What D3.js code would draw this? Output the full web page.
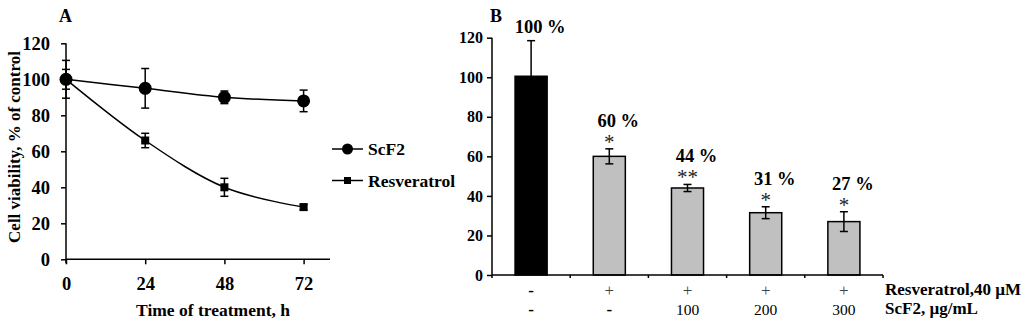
<!DOCTYPE html>
<html><head><meta charset="utf-8">
<script src="https://cdn.jsdelivr.net/npm/d3@7"></script>
<style>
body{margin:0;background:#fff}
svg{display:block;font-family:"Liberation Serif","Times New Roman",serif}
</style></head><body>
<svg width="1024" height="322"></svg>
<script>
// --- Panel A data: viability over time ---
const hours = [0, 24, 48, 72];
const scf2 = [100, 95, 90, 88];
const scf2Err = [10.5, 11, 3.5, 6];
const resv = [100, 66, 40, 29];
const resvErr = [5.5, 4, 5, 1.5];
const yTicksA = [0, 20, 40, 60, 80, 100, 120];

// --- Panel B data: combination treatment ---
const groups = ["ctrl", "r40", "r40s100", "r40s200", "r40s300"];
const viab = [100.5, 60, 44, 31.5, 27];
const viabErr = [18, 3.8, 1.8, 3, 5];
const pctLabels = ["100 %", "60 %", "44 %", "31 %", "27 %"];
const stars = ["", "*", "**", "*", "*"];
const resvRow = ["-", "+", "+", "+", "+"];
const scfRow = ["-", "-", "100", "200", "300"];
const yTicksB = [0, 20, 40, 60, 80, 100, 120];

const svg = d3.select("svg");

function styleAxis(sel, size) {
  sel.selectAll("line").attr("stroke", "#000").attr("stroke-width", 1.5);
  sel.selectAll("path").remove();
  sel.selectAll("text").attr("font-size", size).attr("font-weight", "bold").attr("fill", "#000")
    .attr("font-family", "Liberation Serif");
}

// ================= Panel A =================
const xA = d3.scaleLinear().domain([0, 80]).range([66, 330]);
const yA = d3.scaleLinear().domain([0, 120]).range([259.3, 43.3]);
const gA = svg.append("g");

gA.append("g").attr("transform", "translate(66,0)")
  .call(d3.axisLeft(yA).tickValues(yTicksA).tickSize(5).tickPadding(11))
  .call(s => styleAxis(s, 18.5));
gA.append("g").attr("transform", "translate(0," + yA(0) + ")")
  .call(d3.axisBottom(xA).tickValues(hours).tickSize(5).tickPadding(13))
  .call(s => styleAxis(s, 18.5));
gA.append("line").attr("x1", xA(0)).attr("x2", xA(0)).attr("y1", yA(120)).attr("y2", yA(0) + 4)
  .attr("stroke", "#000").attr("stroke-width", 1.5);
gA.append("line").attr("x1", xA(0)).attr("x2", xA(80)).attr("y1", yA(0)).attr("y2", yA(0))
  .attr("stroke", "#000").attr("stroke-width", 1.5);

const seriesA = [
  {name: "ScF2", vals: scf2, errs: scf2Err, shape: "circle"},
  {name: "Resveratrol", vals: resv, errs: resvErr, shape: "square"}
];
const lineA = d3.line().curve(d3.curveCardinal.tension(0)).x((d, i) => xA(hours[i])).y(d => yA(d));

seriesA.forEach(s => {
  const eg = gA.append("g");
  s.vals.forEach((v, i) => {
    const x = xA(hours[i]);
    eg.append("line").attr("x1", x).attr("x2", x).attr("y1", yA(v - s.errs[i])).attr("y2", yA(v + s.errs[i]));
    [v - s.errs[i], v + s.errs[i]].forEach(e =>
      eg.append("line").attr("x1", x - 4).attr("x2", x + 4).attr("y1", yA(e)).attr("y2", yA(e)));
  });
  eg.selectAll("line").attr("stroke", "#000").attr("stroke-width", 1.5);
  gA.append("path").datum(s.vals).attr("d", lineA).attr("fill", "none").attr("stroke", "#000").attr("stroke-width", 1.5);
});
seriesA.forEach(s => {
  s.vals.forEach((v, i) => {
    if (s.shape === "circle") gA.append("circle").attr("cx", xA(hours[i])).attr("cy", yA(v)).attr("r", 6.5);
    else gA.append("rect").attr("x", xA(hours[i]) - 4).attr("y", yA(v) - 4).attr("width", 8).attr("height", 8);
  });
});

// legend
const leg = gA.append("g").attr("transform", "translate(332,149)");
seriesA.forEach((s, i) => {
  const row = leg.append("g").attr("transform", "translate(0," + (i * 31.5) + ")");
  row.append("line").attr("x1", 0).attr("x2", 31).attr("stroke", "#000").attr("stroke-width", 1.5);
  if (s.shape === "circle") row.append("circle").attr("cx", 15.5).attr("r", 5.5);
  else row.append("rect").attr("x", 12).attr("y", -3.5).attr("width", 7).attr("height", 7);
  row.append("text").attr("x", 36).attr("y", 6).attr("font-size", 17.5).attr("font-weight", "bold").text(s.name);
});

gA.append("text").attr("x", 65.5).attr("y", 22).attr("text-anchor", "middle")
  .attr("font-size", 18).attr("font-weight", "bold").text("A");
gA.append("text").attr("transform", "translate(20,147) rotate(-90)").attr("text-anchor", "middle")
  .attr("font-size", 17).attr("font-weight", "bold").text("Cell viability, % of control");
gA.append("text").attr("x", 213).attr("y", 316).attr("text-anchor", "middle")
  .attr("font-size", 17.5).attr("font-weight", "bold").text("Time of treatment, h");

// ================= Panel B =================
const xB = d3.scaleBand().domain(groups).range([492, 883]).paddingInner(0.59).paddingOuter(0.295);
const yB = d3.scaleLinear().domain([0, 120]).range([275, 37.7]);
const gB = svg.append("g");
const step = xB.step(), bw = xB.bandwidth();

gB.append("g").attr("transform", "translate(492,0)")
  .call(d3.axisLeft(yB).tickValues(yTicksB).tickSize(5).tickPadding(4))
  .call(s => styleAxis(s, 16));

gB.selectAll("rect.bar").data(groups).enter().append("rect").attr("class", "bar")
  .attr("x", d => xB(d)).attr("width", bw)
  .attr("y", (d, i) => yB(viab[i])).attr("height", (d, i) => yB(0) - yB(viab[i]))
  .attr("fill", (d, i) => i === 0 ? "#000" : "#c0c0c0")
  .attr("stroke", "#000").attr("stroke-width", 1.5);

const eb = gB.append("g");
groups.forEach((g, i) => {
  const cx = xB(g) + bw / 2;
  const lo = viab[i] - viabErr[i], hi = viab[i] + viabErr[i];
  eb.append("line").attr("x1", cx).attr("x2", cx).attr("y1", yB(lo)).attr("y2", yB(hi));
  [lo, hi].forEach(e => eb.append("line").attr("x1", cx - 4).attr("x2", cx + 4).attr("y1", yB(e)).attr("y2", yB(e)));
});
eb.selectAll("line").attr("stroke", "#000").attr("stroke-width", 1.5);

// axes lines
gB.append("line").attr("x1", 492).attr("x2", 492).attr("y1", yB(120)).attr("y2", yB(0) + 3)
  .attr("stroke", "#000").attr("stroke-width", 1.5);
gB.append("line").attr("x1", 492).attr("x2", 883).attr("y1", yB(0)).attr("y2", yB(0))
  .attr("stroke", "#000").attr("stroke-width", 1.5);
groups.forEach(g => {
  const tx = xB(g) + bw + step * 0.59 / 2;
  gB.append("line").attr("x1", tx).attr("x2", tx).attr("y1", yB(0)).attr("y2", yB(0) + 3)
    .attr("stroke", "#000").attr("stroke-width", 1.5);
});

// annotations
groups.forEach((g, i) => {
  const cx = xB(g) + bw / 2;
  const top = yB(viab[i] + viabErr[i]);
  const base = stars[i] ? top - 22 : top - 8;
  gB.append("text").attr("x", cx + 9).attr("y", base).attr("text-anchor", "middle")
    .attr("font-size", 18.5).attr("font-weight", "bold").text(pctLabels[i]);
  if (stars[i]) gB.append("text").attr("x", cx).attr("y", base + 22).attr("text-anchor", "middle")
    .attr("font-size", 21).attr("fill", "#222").text(stars[i]);
  gB.append("text").attr("x", cx).attr("y", 296).attr("text-anchor", "middle")
    .attr("font-size", 17).attr("font-weight", resvRow[i] === "-" ? "bold" : "normal")
    .attr("fill", resvRow[i] === "-" ? "#000" : "#444").text(resvRow[i]);
  gB.append("text").attr("x", cx).attr("y", 315).attr("text-anchor", "middle")
    .attr("font-size", scfRow[i] === "-" ? 17 : 15.5).attr("font-weight", scfRow[i] === "-" ? "bold" : "normal")
    .text(scfRow[i]);
});
gB.append("text").attr("x", 885).attr("y", 295).attr("font-size", 17).attr("font-weight", "bold").text("Resveratrol,40 \u00b5M");
gB.append("text").attr("x", 885).attr("y", 314).attr("font-size", 17).attr("font-weight", "bold").text("ScF2, \u00b5g/mL");
gB.append("text").attr("x", 496).attr("y", 22).attr("text-anchor", "middle")
  .attr("font-size", 18).attr("font-weight", "bold").text("B");
</script>
</body></html>
